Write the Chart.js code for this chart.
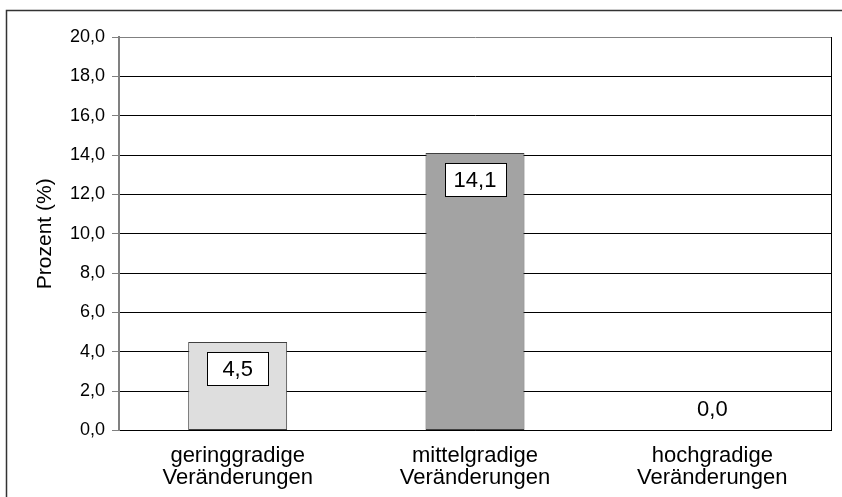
<!DOCTYPE html>
<html>
<head>
<meta charset="utf-8">
<script src="https://cdn.jsdelivr.net/npm/chart.js@4/dist/chart.umd.min.js"></script>
<style>
    html, body { margin: 0; padding: 0; background: #fff; }
    #wrap { width: 842px; height: 497px; position: relative; }
</style>
</head>
<body>
<div id="wrap"><canvas id="bar-chart"></canvas></div>
<script>
// Daten
const categories = [
    ['geringgradige', 'Veränderungen'],
    ['mittelgradige', 'Veränderungen'],
    ['hochgradige', 'Veränderungen']
];
const values = [4.5, 14.1, 0.0];
const barColors = ['#dedede', '#a3a3a3', '#808080'];
const yTicks = [0, 2, 4, 6, 8, 10, 12, 14, 16, 18, 20];

const fmt = v => v.toFixed(1).replace('.', ',');

// Rahmen + rechte Linie der Zeichenfläche
const framePlugin = {
    id: 'frame',
    beforeDraw(chart) {
        const c = chart.ctx;
        c.save();
        c.strokeStyle = '#333';
        c.lineWidth = 1.5;
        c.beginPath();
        c.moveTo(6.5, 497);
        c.lineTo(6.5, 10.5);
        c.lineTo(842, 10.5);
        c.stroke();
        c.restore();
    },
    afterDraw(chart) {
        const a = chart.chartArea;
        const c = chart.ctx;
        c.save();
        c.strokeStyle = '#000';
        c.lineWidth = 1;
        c.beginPath();
        c.moveTo(a.right + 0.5, a.top);
        c.lineTo(a.right + 0.5, a.bottom);
        c.stroke();
        c.restore();
    }
};

// Wertebeschriftung in weißen Kästchen
const labelPlugin = {
    id: 'valueLabels',
    afterDatasetsDraw(chart) {
        const c = chart.ctx;
        const meta = chart.getDatasetMeta(0);
        c.save();
        c.font = '22px "Liberation Sans", Arial, sans-serif';
        c.textAlign = 'center';
        c.textBaseline = 'middle';
        meta.data.forEach((bar, i) => {
            const v = values[i];
            const txt = fmt(v);
            if (v > 0) {
                const w = 61, h = 33;
                const x = Math.round(bar.x - w / 2) + 0.5;
                const y = Math.round(bar.y + 10) + 0.5;
                c.fillStyle = '#fff';
                c.fillRect(x, y, w, h);
                c.strokeStyle = '#000';
                c.lineWidth = 1;
                c.strokeRect(x, y, w, h);
                c.fillStyle = '#000';
                c.fillText(txt, bar.x, y + h / 2 + 1);
            } else {
                c.fillStyle = '#000';
                c.fillText(txt, bar.x, bar.y - 21);
            }
        });
        c.restore();
    }
};

new Chart(document.getElementById('bar-chart'), {
    type: 'bar',
    data: {
        labels: categories,
        datasets: [{
            data: values,
            backgroundColor: barColors,
            borderColor: '#404040',
            borderWidth: 1,
            borderSkipped: false,
            categoryPercentage: 1,
            barPercentage: 0.417
        }]
    },
    options: {
        responsive: true,
        maintainAspectRatio: false,
        animation: false,
        layout: { padding: { top: 37, right: 11, left: 33, bottom: 0 } },
        plugins: {
            legend: { display: false },
            tooltip: { enabled: false }
        },
        scales: {
            x: {
                grid: { display: false },
                border: { color: '#000', width: 1 },
                ticks: {
                    color: '#000',
                    padding: 6,
                    maxRotation: 0,
                    font: { family: '"Liberation Sans", Arial, sans-serif', size: 22, lineHeight: 1.0 }
                },
                afterFit(scale) { scale.height = 66.5; }
            },
            y: {
                min: 0,
                max: 20,
                afterBuildTicks(scale) { scale.ticks = yTicks.map(v => ({ value: v })); },
                grid: {
                    color: ctx => ctx.tick && ctx.tick.value === 20 ? '#808080' : '#000',
                    lineWidth: 1,
                    tickLength: 7,
                    tickColor: '#808080'
                },
                border: { color: '#808080', width: 2 },
                ticks: {
                    color: '#000',
                    padding: 7,
                    callback: v => fmt(v),
                    font: { family: '"Liberation Sans", Arial, sans-serif', size: 18 }
                },
                title: {
                    display: true,
                    text: 'Prozent (%)',
                    color: '#000',
                    padding: { top: 0, bottom: 4 },
                    font: { family: '"Liberation Sans", Arial, sans-serif', size: 21 }
                },
                afterFit(scale) { scale.width = 86; }
            }
        }
    },
    plugins: [framePlugin, labelPlugin]
});
</script>
</body>
</html>
